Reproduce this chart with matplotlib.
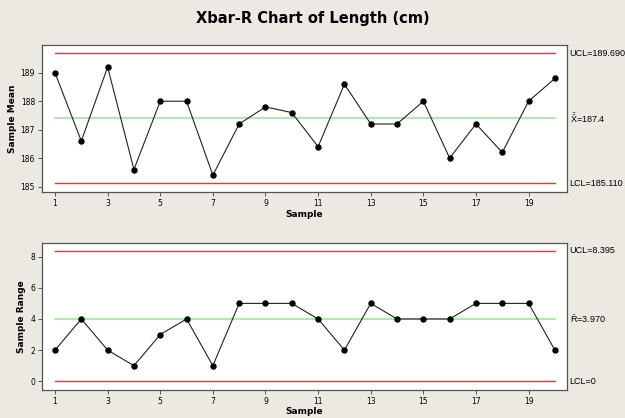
import matplotlib
matplotlib.use("Agg")
import matplotlib.pyplot as plt
from matplotlib.transforms import blended_transform_factory

samples = list(range(1, 21))
means = [189.0, 186.6, 189.2, 185.6, 188.0, 188.0, 185.4, 187.2, 187.8, 187.6,
         186.4, 188.6, 187.2, 187.2, 188.0, 186.0, 187.2, 186.2, 188.0, 188.8]
ranges = [2, 4, 2, 1, 3, 4, 1, 5, 5, 5, 4, 2, 5, 4, 4, 4, 5, 5, 5, 2]
xbar_ucl, xbar_cl, xbar_lcl = 189.690, 187.4, 185.110
r_ucl, r_cl, r_lcl = 8.395, 3.970, 0.0
xticks = [1, 3, 5, 7, 9, 11, 13, 15, 17, 19]
mean_yticks = [185, 186, 187, 188, 189]
range_yticks = [0, 2, 4, 6, 8]

plt.rcParams['mathtext.fontset'] = 'custom'
plt.rcParams['mathtext.rm'] = 'Liberation Sans'
bg = '#ECE9E3'
red = '#E8393A'
green = '#9DE89D'
fig = plt.figure(figsize=(6.25, 4.18), dpi=100, facecolor=bg)
fig.text(0.5, 0.955, 'Xbar-R Chart of Length (cm)', ha='center', va='center',
         fontsize=10.5, fontweight='bold', family='DejaVu Sans')

ax1 = fig.add_axes([0.0672, 0.540, 0.84, 0.352])
ax2 = fig.add_axes([0.0672, 0.067, 0.84, 0.351])

def style(ax, yticks, ylabel):
    ax.set_facecolor('white')
    for s in ax.spines.values():
        s.set_color('#555555')
        s.set_linewidth(0.9)
    ax.set_xticks(xticks)
    ax.set_yticks(yticks)
    ax.tick_params(axis='both', labelsize=5.5, length=3, width=0.7, color='#555555', pad=2)
    ax.set_xlim(0.506, 20.46)
    ax.set_xlabel('Sample', fontsize=6.5, fontweight='bold', labelpad=1)
    ax.set_ylabel(ylabel, fontsize=6.5, fontweight='bold', labelpad=3)

lab = dict(fontsize=6.5, va='center', ha='left', family='Liberation Sans')

# Xbar chart
ax1.plot([1, 20], [xbar_ucl, xbar_ucl], color=red, lw=1.0)
ax1.plot([1, 20], [xbar_lcl, xbar_lcl], color=red, lw=1.0)
ax1.plot([1, 20], [xbar_cl, xbar_cl], color=green, lw=1.2)
ax1.plot(samples, means, color='#222222', lw=0.8, marker='o', ms=3.6, mfc='black', mec='black')
ax1.set_ylim(184.8, 189.97)
style(ax1, mean_yticks, 'Sample Mean')
t1 = blended_transform_factory(ax1.transAxes, ax1.transData)
ax1.text(1.005, xbar_ucl, 'UCL=189.690', transform=t1, **lab)
ax1.text(1.005, xbar_cl, r'$\bar{\bar{\mathrm{X}}}$=187.4', transform=t1, **lab)
ax1.text(1.005, xbar_lcl, 'LCL=185.110', transform=t1, **lab)

# R chart
ax2.plot([1, 20], [r_ucl, r_ucl], color=red, lw=1.0)
ax2.plot([1, 20], [r_lcl, r_lcl], color=red, lw=1.0)
ax2.plot([1, 20], [r_cl, r_cl], color=green, lw=1.2)
ax2.plot(samples, ranges, color='#222222', lw=0.8, marker='o', ms=3.6, mfc='black', mec='black')
ax2.set_ylim(-0.56, 8.86)
style(ax2, range_yticks, 'Sample Range')
t2 = blended_transform_factory(ax2.transAxes, ax2.transData)
ax2.text(1.005, r_ucl, 'UCL=8.395', transform=t2, **lab)
ax2.text(1.005, r_cl, r'$\bar{\mathrm{R}}$=3.970', transform=t2, **lab)
ax2.text(1.005, r_lcl, 'LCL=0', transform=t2, **lab)

fig.savefig('out.png', dpi=100, facecolor=bg)
